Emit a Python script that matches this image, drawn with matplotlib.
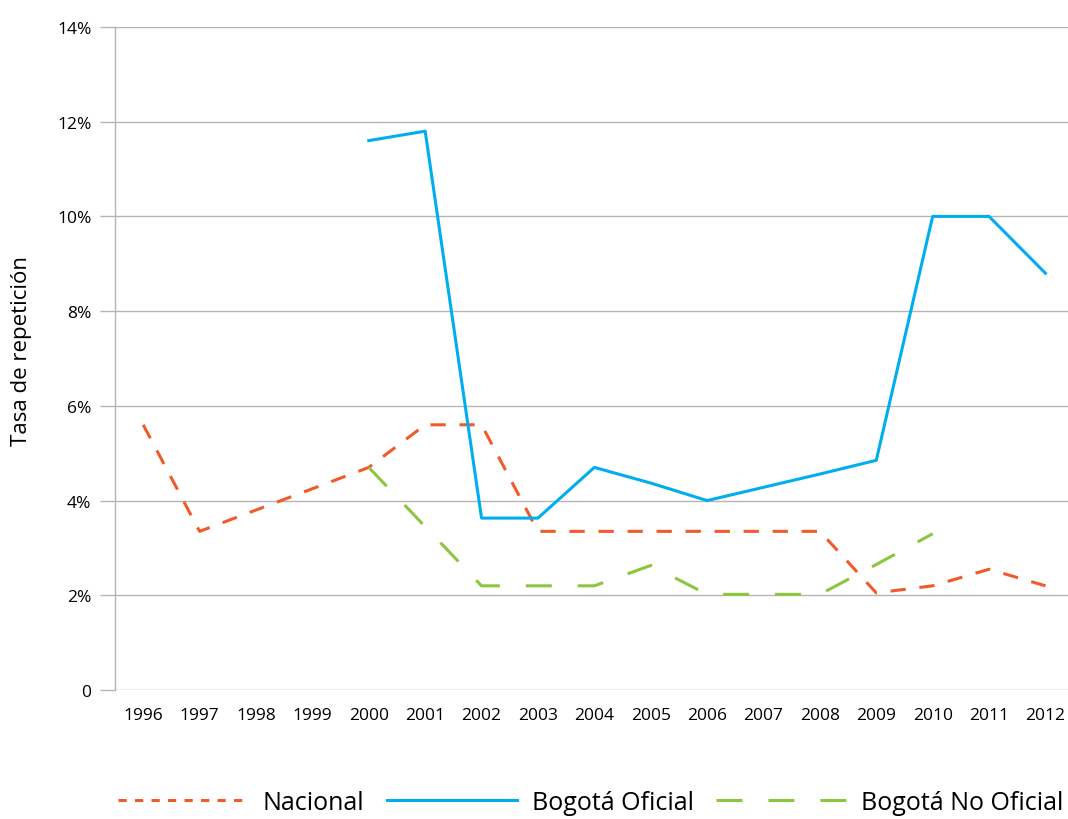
import numpy as np
import matplotlib
matplotlib.use("Agg")
import matplotlib.pyplot as plt
from matplotlib.lines import Line2D

plt.rcParams['font.family'] = ['Open Sans', 'DejaVu Sans']

# datos (tasa de repeticion, %)
years = ['1996', '1997', '1998', '1999', '2000', '2001', '2002', '2003', '2004',
         '2005', '2006', '2007', '2008', '2009', '2010', '2011', '2012']
nacional = [5.6, 3.35, 3.8, 4.25, 4.7, 5.6, 5.6, 3.35, 3.35,
            3.35, 3.35, 3.35, 3.35, 2.05, 2.2, 2.55, 2.2]
bogota_oficial = [np.nan, np.nan, np.nan, np.nan, 11.6, 11.8, 3.63, 3.63, 4.7,
                  4.37, 4.0, 4.28, 4.56, 4.85, 10.0, 10.0, 8.8]
bogota_no_oficial = [np.nan, np.nan, np.nan, np.nan, 4.7, 3.45, 2.2, 2.2, 2.2,
                     2.63, 2.02, 2.02, 2.02, 2.65, 3.3, np.nan, np.nan]
yticks = [0, 2, 4, 6, 8, 10, 12, 14]
ytick_labels = ['0', '2%', '4%', '6%', '8%', '10%', '12%', '14%']

c_nac = '#F15A2B'
c_ofi = '#00AEEF'
c_nof = '#8CC63F'
c_grid = '#B5B5B5'

fig = plt.figure(figsize=(10.68, 8.2), dpi=100)
ax = fig.add_axes([0.1077, 0.1573, 0.8923, 0.8086])

x = np.arange(len(years))
ax.plot(x, nacional, color=c_nac, lw=2.2, dashes=(5, 4.5))
ax.plot(x, bogota_oficial, color=c_ofi, lw=2.2)
ax.plot(x, bogota_no_oficial, color=c_nof, lw=2.2, dashes=(8.5, 8.5))

ax.set_xlim(-0.5, 16.4)
ax.set_ylim(0, 14)
ax.set_yticks(yticks)
ax.set_yticklabels(ytick_labels, fontsize=12.5)
ax.set_xticks(x)
ax.set_xticklabels(years, fontsize=12.5)
ax.tick_params(axis='x', length=0, pad=12)
ax.tick_params(axis='y', length=11, width=1, color=c_grid, pad=6)
ax.yaxis.grid(True, color=c_grid, lw=1)
ax.set_axisbelow(True)
for s in ['top', 'right', 'bottom']:
    ax.spines[s].set_visible(False)
ax.spines['left'].set_color(c_grid)
ax.spines['left'].set_linewidth(1)
ax.set_ylabel('Tasa de repetición', fontsize=16)
ax.yaxis.set_label_coords(-0.087, 0.513)

handles = [
    Line2D([], [], color=c_nac, lw=2.2, dashes=(2.7, 2.7)),
    Line2D([], [], color=c_ofi, lw=2.2),
    Line2D([], [], color=c_nof, lw=2.2, dashes=(8.5, 8.5)),
]
fig.legend(handles, ['Nacional', 'Bogotá Oficial', 'Bogotá No Oficial'],
           loc='center', bbox_to_anchor=(0.553, 0.02), ncol=3,
           frameon=False, fontsize=18, handlelength=5.2, handletextpad=0.6,
           columnspacing=0.9, borderpad=0)

fig.savefig('out.png', dpi=100)
